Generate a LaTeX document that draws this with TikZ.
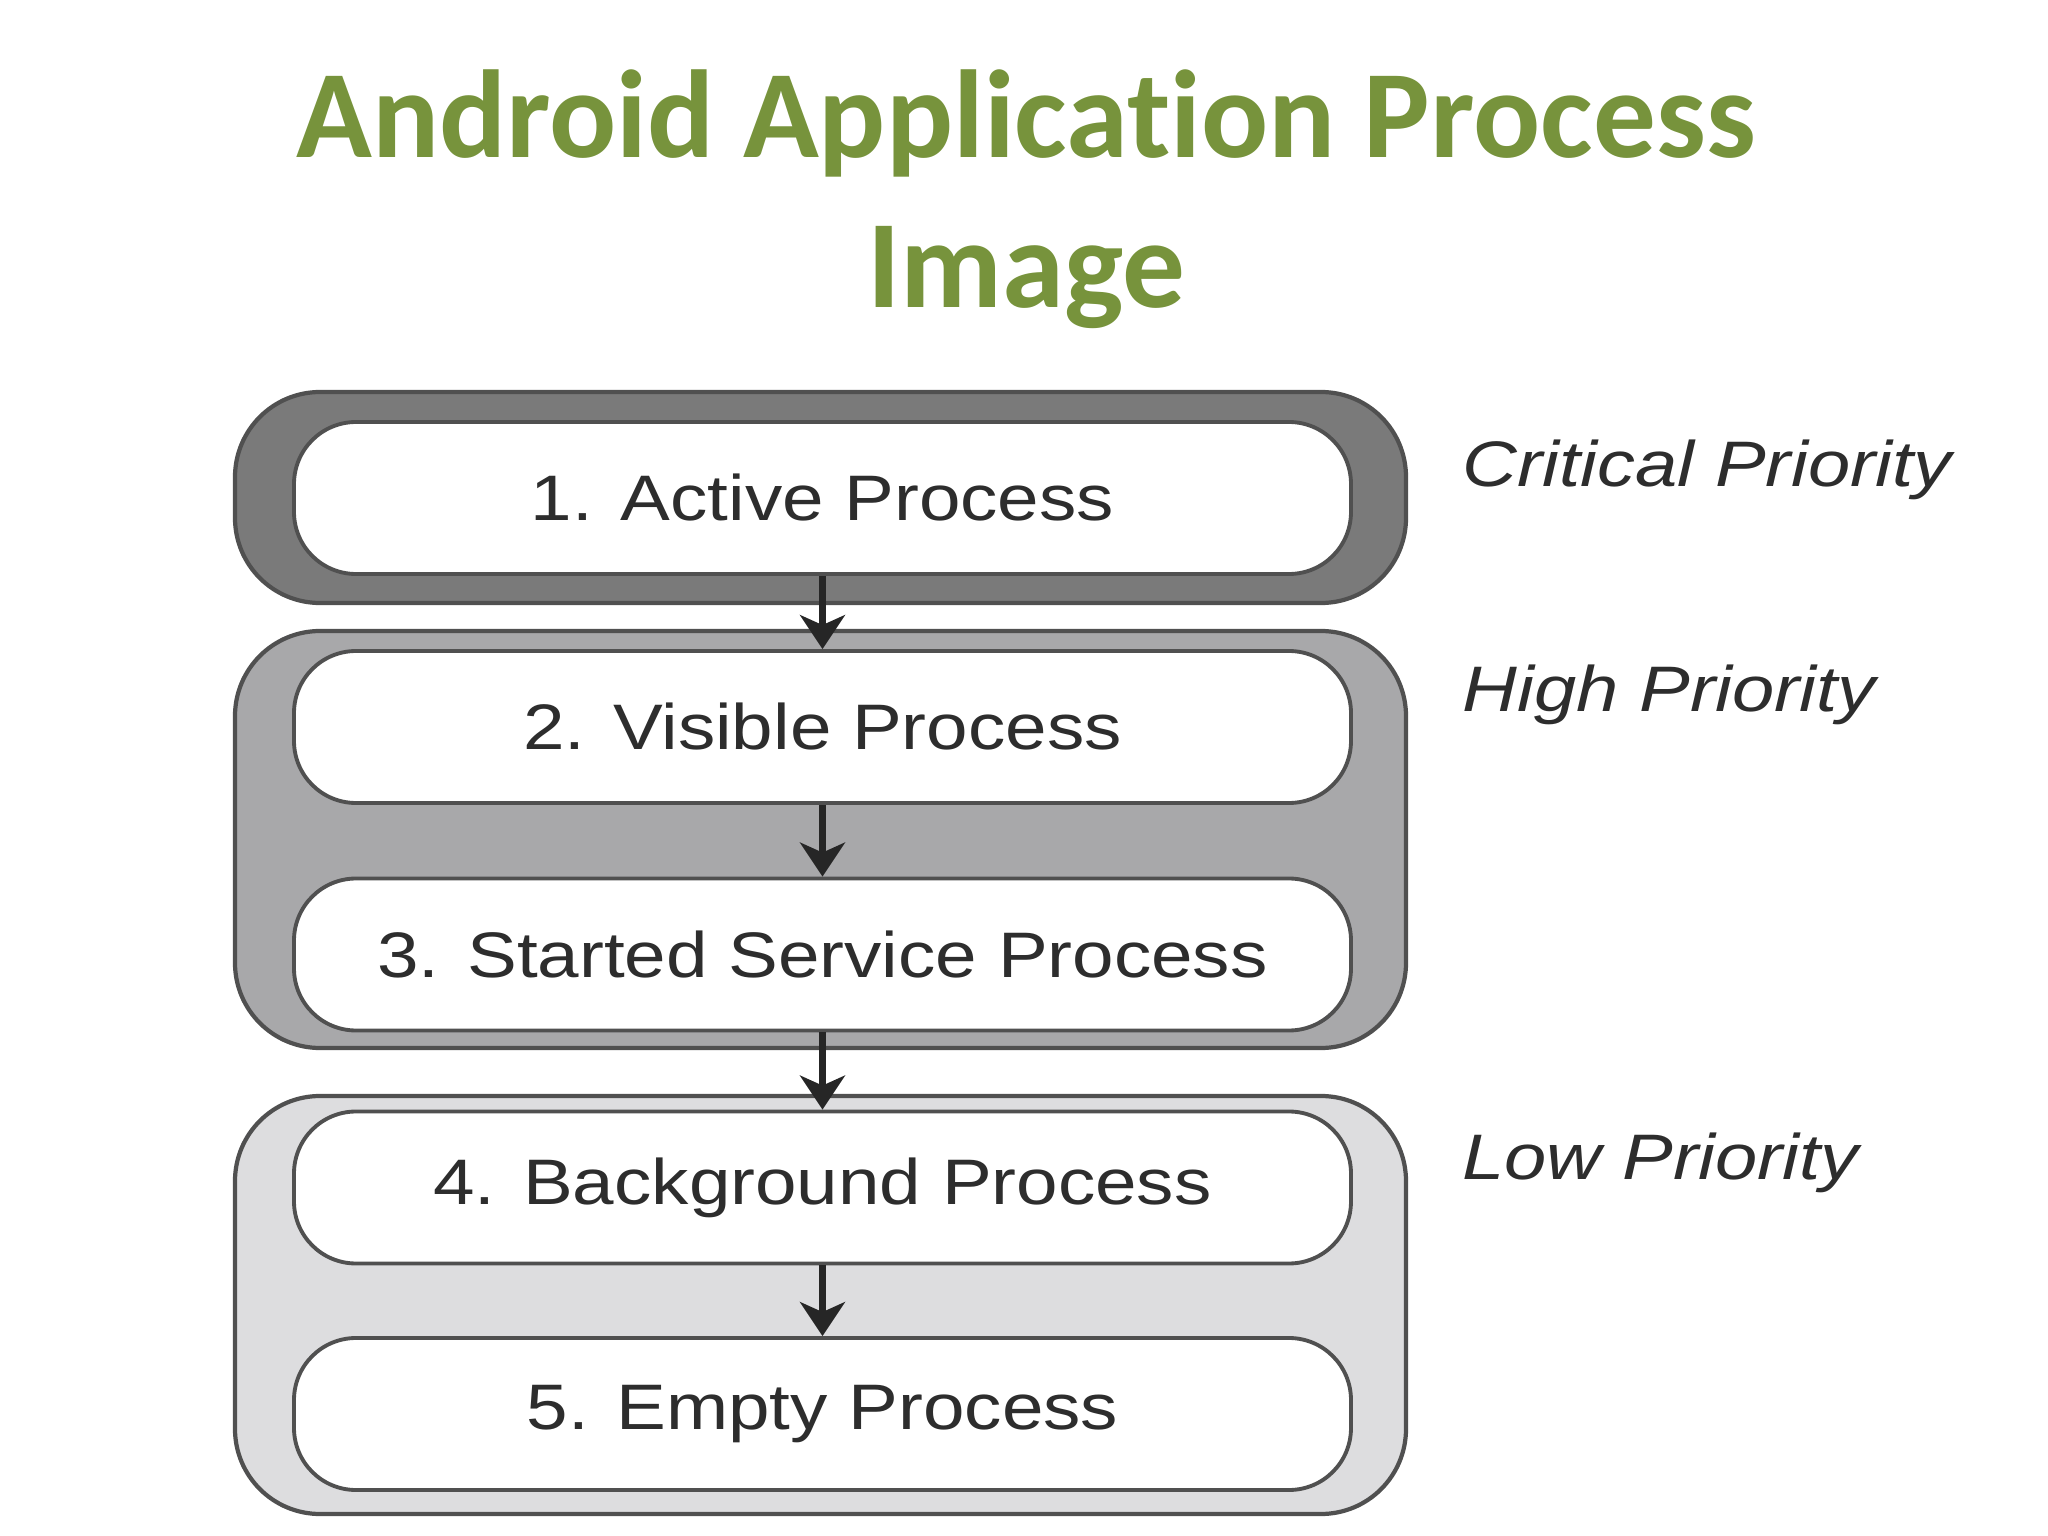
\documentclass[tikz,border=0pt]{standalone}
\usepackage{fontspec}
\usetikzlibrary{arrows.meta}

\newfontfamily\titlefont{Carlito}[Ligatures=NoCommon]
\newfontfamily\procfont{Liberation Sans}[FakeStretch=1.16]
\newfontfamily\priofont{Liberation Sans}[FakeStretch=1.18]

\definecolor{titlegreen}{RGB}{119,147,60}
\definecolor{critgray}{RGB}{122,122,122}
\definecolor{highgray}{RGB}{168,168,170}
\definecolor{lowgray}{RGB}{221,221,223}
\definecolor{edgegray}{RGB}{80,80,80}
\definecolor{textgray}{RGB}{45,45,45}

\begin{document}
\begin{tikzpicture}
		\tikzset{
			title/.style={anchor=base, text=titlegreen, font=\titlefont\bfseries\fontsize{35.6}{43}\selectfont},
			group/.style={draw=edgegray, line width=1.2pt, rounded corners=0.85cm, minimum width=11.71cm},
			proc/.style={draw=edgegray, fill=white, line width=1.1pt, rounded corners=0.62cm,
				minimum width=10.57cm, minimum height=1.52cm, text=textgray,
				font=\procfont\fontsize{18.3}{22}\selectfont},
			prio/.style={anchor=base west, text=textgray, font=\priofont\itshape\fontsize{18.3}{22}\selectfont},
			flow/.style={line width=1.8pt, draw=black!85, -{Stealth[length=3.4mm,width=4.5mm,inset=1mm]}}
		}
\useasboundingbox (0,0) rectangle (20.48,-15.36);

\node[title] (title) at (10.26,-1.58) {Android Application Process};
\node[title] (title2) at (10.26,-3.08) {Image};

% priority groups
\node[group, fill=critgray, minimum height=2.11cm] (critical) at (8.205,-4.975) {};
\node[group, fill=highgray, minimum height=4.17cm] (high) at (8.205,-8.395) {};
\node[group, fill=lowgray, minimum height=4.18cm] (low) at (8.205,-13.05) {};

% processes
\node[proc] (active) at (8.225,-4.98) {1. Active Process};
\node[proc] (visible) at (8.225,-7.27) {2. Visible Process};
\node[proc] (service) at (8.225,-9.545) {3. Started Service Process};
\node[proc] (background) at (8.225,-11.875) {4. Background Process};
\node[proc] (empty) at (8.225,-14.14) {5. Empty Process};

\node[prio] (crit) at (14.5,-4.86) {Critical Priority};
\node[prio] (highp) at (14.5,-7.12) {High Priority};
\node[prio] (lowp) at (14.5,-11.79) {Low Priority};

\foreach \from/\to in {active/visible,visible/service,service/background,background/empty}
{
	\draw[flow] (\from) -- (\to);
}

		\end{tikzpicture}
\end{document}
